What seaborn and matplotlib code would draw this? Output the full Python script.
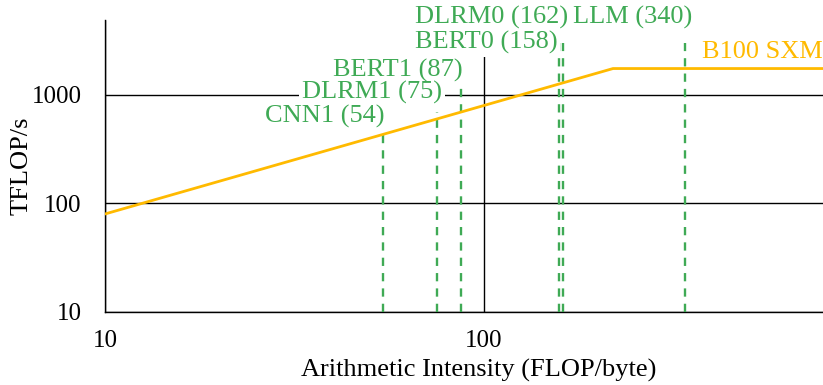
import matplotlib
matplotlib.use("Agg")
import matplotlib.pyplot as plt
import seaborn as sns
import pandas as pd

# roofline of the B100 SXM (TFLOP/s vs arithmetic intensity)
roof_ai = [10, 219, 1000]
roof_tflops = [80, 1750, 1750]

# workloads: arithmetic intensity, top of the dashed marker, label height
workloads = ["CNN1", "DLRM1", "BERT1", "BERT0", "DLRM0", "LLM"]
workload_ai = [54, 75, 87, 158, 162, 340]
marker_top = [476, 697, 1263, 3013, 3013, 3013]
label_y = [627, 1043, 1698, 3013, 5130, 5130]

x_ticks = [10, 100]
y_ticks = [10, 100, 1000]

GREEN = "#3FAA55"
ORANGE = "#FFBA00"

sns.set_theme(style="white")
plt.rcParams["font.family"] = ["Liberation Serif", "DejaVu Serif"]

fig = plt.figure(figsize=(8.23, 3.85), dpi=100)
ax = fig.add_axes([105 / 823, 73 / 385, 758 / 823, 292 / 385])

roof = pd.DataFrame({"ai": roof_ai, "tflops": roof_tflops})
sns.lineplot(data=roof, x="ai", y="tflops", color=ORANGE, lw=2, ax=ax, zorder=4)

ax.set_xscale("log")
ax.set_yscale("log")
ax.set_xlim(10, 1000)
ax.set_ylim(10, 4900)

ax.vlines(workload_ai, 10, marker_top, colors=GREEN, lw=1.7,
          linestyles=(0, (3.5, 3)), zorder=3)

# small horizontal nudges (px) so each label ends at its marker
nudges = [2, 5, 2, -2, 5, 7]
for name, ai, ly, dx in zip(workloads, workload_ai, label_y, nudges):
    # white backing first, then the text on top so neighbours never get clipped
    for z, col, box in [(5, "none", dict(facecolor="white", edgecolor="none", pad=2)),
                        (6, GREEN, None)]:
        ax.annotate(f"{name} ({ai})", xy=(ai, ly), xytext=(dx * 0.72, 0),
                    textcoords="offset points", ha="right", va="center",
                    color=col, fontsize=19, annotation_clip=False, zorder=z,
                    bbox=box)

ax.text(375, 2490, "B100 SXM", color=ORANGE, fontsize=19, ha="left", va="center", zorder=5)

ax.set_xticks(x_ticks)
ax.set_yticks(y_ticks)
ax.set_xticklabels([str(t) for t in x_ticks])
ax.set_yticklabels([str(t) for t in y_ticks])
ax.minorticks_off()
ax.tick_params(axis="y", length=0, pad=17, labelsize=18, colors="black")
ax.tick_params(axis="x", length=0, pad=13, labelsize=18, colors="black")

ax.grid(True, which="major", color="black", lw=1)
ax.set_axisbelow(True)

for side in ["top", "right"]:
    ax.spines[side].set_visible(False)
for side in ["left", "bottom"]:
    ax.spines[side].set_color("black")
    ax.spines[side].set_linewidth(1)

ax.set_xlabel("Arithmetic Intensity (FLOP/byte)", fontsize=19, color="black")
ax.set_ylabel("TFLOP/s", fontsize=19, color="black")
ax.xaxis.set_label_coords(374 / 758, -58 / 292)
ax.xaxis.label.set_va("center")
ax.yaxis.set_label_coords(-83 / 758, 0.5)
ax.yaxis.label.set_va("center")

fig.savefig("out.png", dpi=100)
